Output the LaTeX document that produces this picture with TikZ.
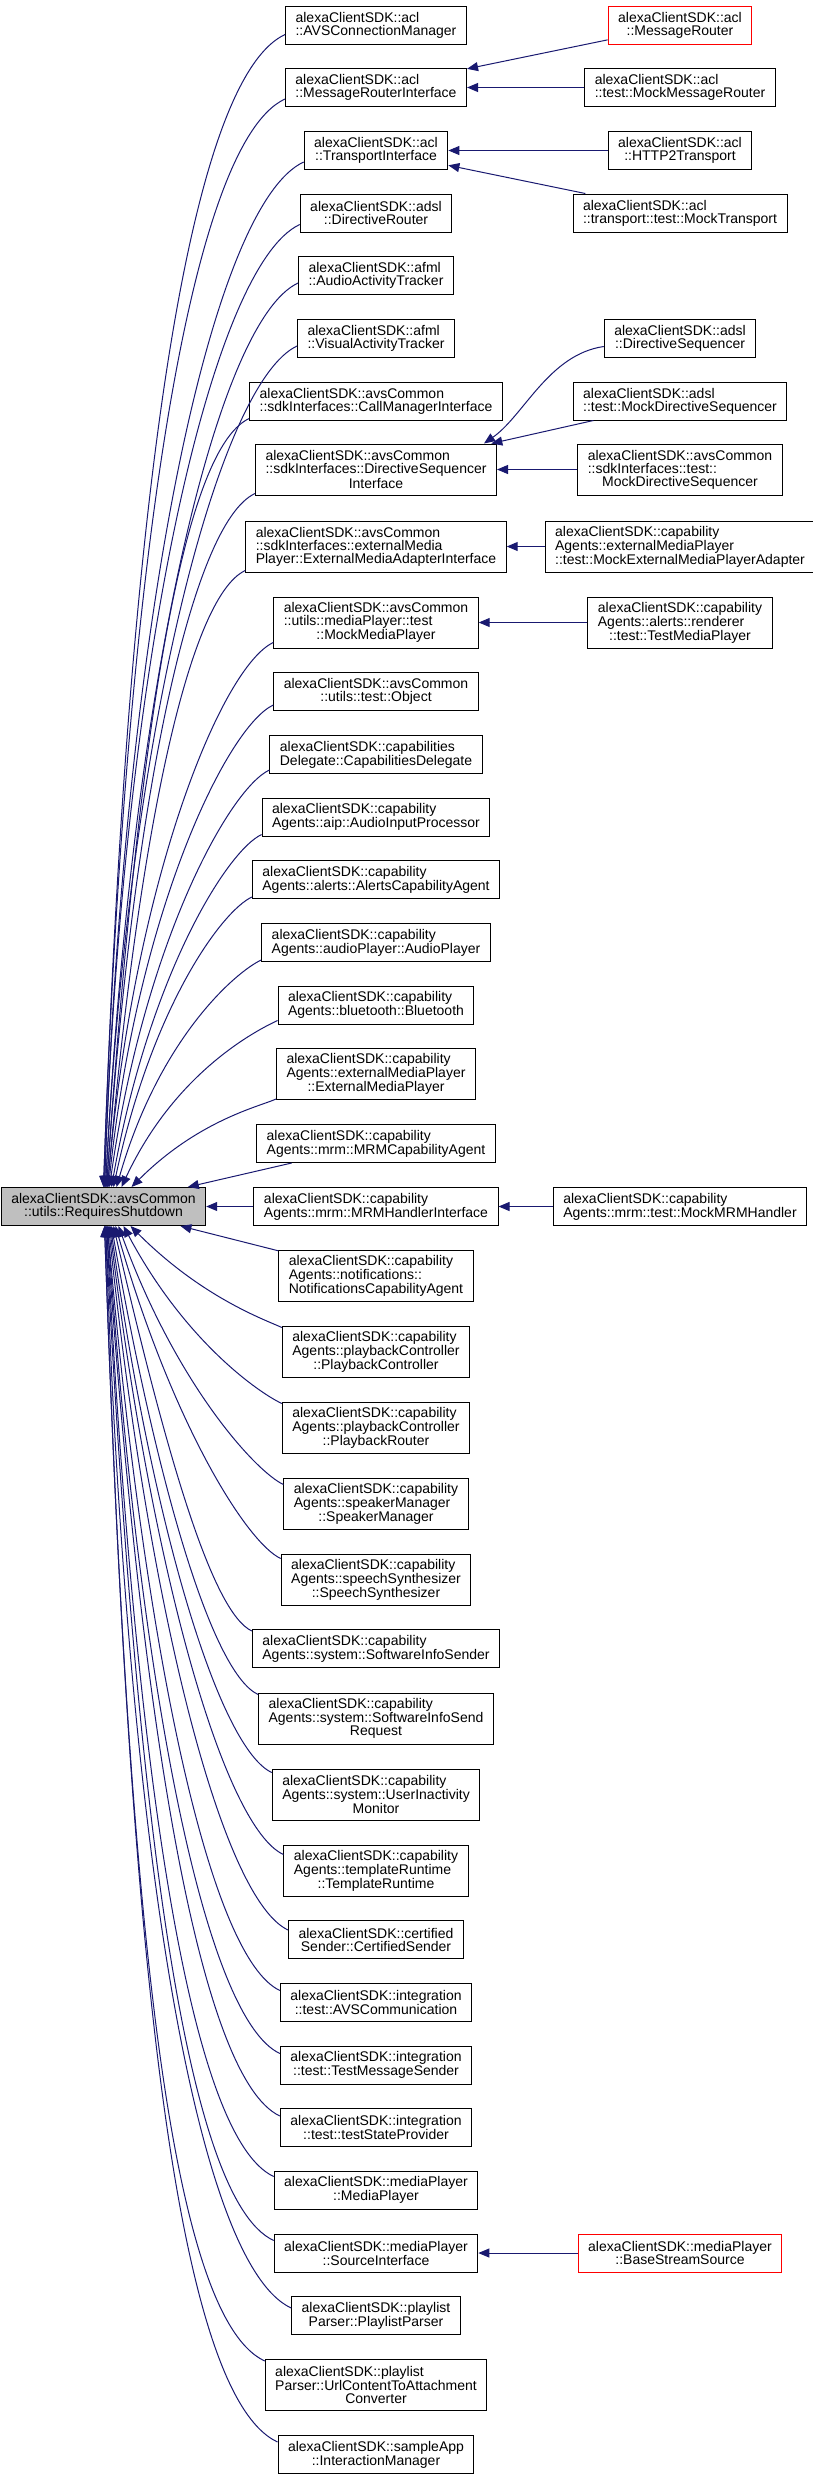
\documentclass[tikz,border=0pt]{standalone}
\usepackage{fontspec}
\setmainfont{Liberation Sans}
\usetikzlibrary{arrows.meta}
\definecolor{edgeblue}{HTML}{191970}
\definecolor{basegray}{HTML}{BFBFBF}
% last line of a label is centred, the others are flush left
\newcommand{\lastln}[1]{\hfill#1\hfill\mbox{}}

\begin{document}
\begin{tikzpicture}[x=1pt, y=-1pt,
    cls/.style={draw=black, rectangle, line width=1pt, fill=white, font=\fontsize{14}{13}\selectfont,
                align=left, inner xsep=10pt, inner ysep=0pt, minimum height=38pt},
    cls3/.style={cls, minimum height=51pt},
    trunc/.style={cls, draw=red},
    basecls/.style={cls, fill=basegray},
    inh/.style={draw=edgeblue, line width=1pt, -{Triangle[length=11pt, width=9pt]}}
]
\useasboundingbox (0,0) rectangle (813,2479);

% Base class
\node[basecls] (rs) at (103.5,1206.5) {alexaClientSDK::avsCommon\\\lastln{::utils::RequiresShutdown}};

% Derived classes
\node[cls] (avsconn) at (376,25) {alexaClientSDK::acl\\\lastln{::AVSConnectionManager}};
\node[cls] (msgrouterif) at (376,87.5) {alexaClientSDK::acl\\\lastln{::MessageRouterInterface}};
\node[cls] (transportif) at (376,150.5) {alexaClientSDK::acl\\\lastln{::TransportInterface}};
\node[cls] (dirrouter) at (376,213) {alexaClientSDK::adsl\\\lastln{::DirectiveRouter}};
\node[cls] (audioact) at (376,275.5) {alexaClientSDK::afml\\\lastln{::AudioActivityTracker}};
\node[cls] (visualact) at (376,338.5) {alexaClientSDK::afml\\\lastln{::VisualActivityTracker}};
\node[cls] (callmgr) at (376,401) {alexaClientSDK::avsCommon\\\lastln{::sdkInterfaces::CallManagerInterface}};
\node[cls3] (dirseqif) at (376,469.5) {alexaClientSDK::avsCommon\\::sdkInterfaces::DirectiveSequencer\\\lastln{Interface}};
\node[cls3] (extmediaif) at (376,546.5) {alexaClientSDK::avsCommon\\::sdkInterfaces::externalMedia\\\lastln{Player::ExternalMediaAdapterInterface}};
\node[cls3] (mockmp) at (376,622.5) {alexaClientSDK::avsCommon\\::utils::mediaPlayer::test\\\lastln{::MockMediaPlayer}};
\node[cls] (utilobj) at (376,691.5) {alexaClientSDK::avsCommon\\\lastln{::utils::test::Object}};
\node[cls] (capdelegate) at (376,754.5) {alexaClientSDK::capabilities\\\lastln{Delegate::CapabilitiesDelegate}};
\node[cls] (aip) at (376,817) {alexaClientSDK::capability\\\lastln{Agents::aip::AudioInputProcessor}};
\node[cls] (alerts) at (376,879.5) {alexaClientSDK::capability\\\lastln{Agents::alerts::AlertsCapabilityAgent}};
\node[cls] (audioplayer) at (376,942.5) {alexaClientSDK::capability\\\lastln{Agents::audioPlayer::AudioPlayer}};
\node[cls] (bluetooth) at (376,1005) {alexaClientSDK::capability\\\lastln{Agents::bluetooth::Bluetooth}};
\node[cls3] (extmp) at (376,1074) {alexaClientSDK::capability\\Agents::externalMediaPlayer\\\lastln{::ExternalMediaPlayer}};
\node[cls] (mrmca) at (376,1143.5) {alexaClientSDK::capability\\\lastln{Agents::mrm::MRMCapabilityAgent}};
\node[cls] (mrmhandlerif) at (376,1206.5) {alexaClientSDK::capability\\\lastln{Agents::mrm::MRMHandlerInterface}};
\node[cls3] (notif) at (376,1275.5) {alexaClientSDK::capability\\Agents::notifications::\\\lastln{NotificationsCapabilityAgent}};
\node[cls3] (pbcontroller) at (376,1351.5) {alexaClientSDK::capability\\Agents::playbackController\\\lastln{::PlaybackController}};
\node[cls3] (pbrouter) at (376,1427.5) {alexaClientSDK::capability\\Agents::playbackController\\\lastln{::PlaybackRouter}};
\node[cls3] (speakermgr) at (376,1503.5) {alexaClientSDK::capability\\Agents::speakerManager\\\lastln{::SpeakerManager}};
\node[cls3] (speechsynth) at (376,1579.5) {alexaClientSDK::capability\\Agents::speechSynthesizer\\\lastln{::SpeechSynthesizer}};
\node[cls] (swinfosender) at (376,1648.5) {alexaClientSDK::capability\\\lastln{Agents::system::SoftwareInfoSender}};
\node[cls3] (swinforeq) at (376,1718.5) {alexaClientSDK::capability\\Agents::system::SoftwareInfoSend\\\lastln{Request}};
\node[cls3] (userinact) at (376,1794.5) {alexaClientSDK::capability\\Agents::system::UserInactivity\\\lastln{Monitor}};
\node[cls3] (templrt) at (376,1870.5) {alexaClientSDK::capability\\Agents::templateRuntime\\\lastln{::TemplateRuntime}};
\node[cls] (certsender) at (376,1939.5) {alexaClientSDK::certified\\\lastln{Sender::CertifiedSender}};
\node[cls] (avscomm) at (376,2002) {alexaClientSDK::integration\\\lastln{::test::AVSCommunication}};
\node[cls] (testmsgsender) at (376,2065) {alexaClientSDK::integration\\\lastln{::test::TestMessageSender}};
\node[cls] (teststate) at (376,2127.5) {alexaClientSDK::integration\\\lastln{::test::testStateProvider}};
\node[cls] (mediaplayer) at (376,2190) {alexaClientSDK::mediaPlayer\\\lastln{::MediaPlayer}};
\node[cls] (sourceif) at (376,2253) {alexaClientSDK::mediaPlayer\\\lastln{::SourceInterface}};
\node[cls] (playlistparser) at (376,2315.5) {alexaClientSDK::playlist\\\lastln{Parser::PlaylistParser}};
\node[cls3] (urlconv) at (376,2385) {alexaClientSDK::playlist\\Parser::UrlContentToAttachment\\\lastln{Converter}};
\node[cls] (interactmgr) at (376,2454.5) {alexaClientSDK::sampleApp\\\lastln{::InteractionManager}};

% Second level
\node[trunc] (msgrouter) at (680,25) {alexaClientSDK::acl\\\lastln{::MessageRouter}};
\node[cls] (mockmsgrouter) at (680,87.5) {alexaClientSDK::acl\\\lastln{::test::MockMessageRouter}};
\node[cls] (http2) at (680,150.5) {alexaClientSDK::acl\\\lastln{::HTTP2Transport}};
\node[cls] (mocktransport) at (680,213) {alexaClientSDK::acl\\\lastln{::transport::test::MockTransport}};
\node[cls] (dirseq) at (680,338.5) {alexaClientSDK::adsl\\\lastln{::DirectiveSequencer}};
\node[cls] (mockdirseq) at (680,401) {alexaClientSDK::adsl\\\lastln{::test::MockDirectiveSequencer}};
\node[cls3] (mockdirseqif) at (680,469.5) {alexaClientSDK::avsCommon\\::sdkInterfaces::test::\\\lastln{MockDirectiveSequencer}};
\node[cls3] (mockextadapter) at (680,546.5) {alexaClientSDK::capability\\Agents::externalMediaPlayer\\\lastln{::test::MockExternalMediaPlayerAdapter}};
\node[cls3] (testmp) at (680,622.5) {alexaClientSDK::capability\\Agents::alerts::renderer\\\lastln{::test::TestMediaPlayer}};
\node[cls] (mockmrm) at (680,1206.5) {alexaClientSDK::capability\\\lastln{Agents::mrm::test::MockMRMHandler}};
\node[trunc] (basestream) at (680,2253) {alexaClientSDK::mediaPlayer\\\lastln{::BaseStreamSource}};

% Inheritance, upper half
\draw[inh] ([yshift=10pt]avsconn.south west) .. controls +(205:114pt) and +(88:639pt) .. (rs.north);
\draw[inh] ([yshift=8pt]msgrouterif.south west) .. controls +(205:108pt) and +(88:604pt) .. (rs.north);
\draw[inh] ([yshift=8pt]transportif.south west) .. controls +(205:102pt) and +(88:570pt) .. ([xshift=1pt]rs.north);
\draw[inh] ([yshift=8pt]dirrouter.south west) .. controls +(205:96pt) and +(88:536pt) .. ([xshift=1pt]rs.north);
\draw[inh] ([yshift=12pt]audioact.south west) .. controls +(205:90pt) and +(87:505pt) .. ([xshift=2pt]rs.north);
\draw[inh] ([yshift=12pt]visualact.south west) .. controls +(205:84pt) and +(87:471pt) .. ([xshift=2pt]rs.north);
\draw[inh] ([yshift=2pt]callmgr.south west) .. controls +(205:77pt) and +(86:432pt) .. ([xshift=3pt]rs.north);
\draw[inh] ([yshift=2pt]dirseqif.south west) .. controls +(205:70pt) and +(86:392pt) .. ([xshift=3pt]rs.north);
\draw[inh] ([yshift=2pt]extmediaif.south west) .. controls +(205:63pt) and +(85:351pt) .. ([xshift=4pt]rs.north);
\draw[inh] ([yshift=6pt]mockmp.south west) .. controls +(205:56pt) and +(85:313pt) .. ([xshift=4pt]rs.north);
\draw[inh] ([yshift=6pt]utilobj.south west) .. controls +(205:50pt) and +(84:281pt) .. ([xshift=5pt]rs.north);
\draw[inh] ([yshift=4pt]capdelegate.south west) .. controls +(205:44pt) and +(82:247pt) .. ([xshift=6pt]rs.north);
\draw[inh] ([yshift=2pt]aip.south west) .. controls +(205:38pt) and +(80:215pt) .. ([xshift=8pt]rs.north);
\draw[inh] ([yshift=2pt]alerts.south west) .. controls +(205:33pt) and +(78:185pt) .. ([xshift=10pt]rs.north);
\draw[inh] ([yshift=2pt]audioplayer.south west) .. controls +(205:28pt) and +(74:155pt) .. ([xshift=13pt]rs.north);
\draw[inh] ([yshift=4pt]bluetooth.south west) .. controls +(205:23pt) and +(65:127pt) .. ([xshift=18pt]rs.north);
\draw[inh] ([yshift=1pt]extmp.south west) .. controls +(205:17pt) and +(45:95pt) .. ([xshift=28pt]rs.north);
\draw[inh] (mrmca) -- (rs);
\draw[inh] (mrmhandlerif) -- (rs);

% Inheritance, lower half
\draw[inh] (notif) -- (rs);
\draw[inh] ([yshift=-2pt]pbcontroller.north west) .. controls +(155:18pt) and +(-45:102pt) .. ([xshift=27pt]rs.south);
\draw[inh] ([yshift=-2pt]pbrouter.north west) .. controls +(155:24pt) and +(-62:132pt) .. ([xshift=20pt]rs.south);
\draw[inh] ([yshift=-7pt]speakermgr.north west) .. controls +(155:30pt) and +(-70:170pt) .. ([xshift=15pt]rs.south);
\draw[inh] ([yshift=-5pt]speechsynth.north west) .. controls +(155:37pt) and +(-74:207pt) .. ([xshift=12pt]rs.south);
\draw[inh] ([yshift=-2pt]swinfosender.north west) .. controls +(155:43pt) and +(-77:242pt) .. ([xshift=10pt]rs.south);
\draw[inh] ([yshift=-2pt]swinforeq.north west) .. controls +(155:49pt) and +(-80:275pt) .. ([xshift=8pt]rs.south);
\draw[inh] ([yshift=-4pt]userinact.north west) .. controls +(155:56pt) and +(-82:316pt) .. ([xshift=7pt]rs.south);
\draw[inh] ([yshift=-10pt]templrt.north west) .. controls +(155:64pt) and +(-83:359pt) .. ([xshift=6pt]rs.south);
\draw[inh] ([yshift=-10pt]certsender.north west) .. controls +(155:71pt) and +(-84:400pt) .. ([xshift=5pt]rs.south);
\draw[inh] ([yshift=-8pt]avscomm.north west) .. controls +(155:77pt) and +(-85:432pt) .. ([xshift=4pt]rs.south);
\draw[inh] ([yshift=-8pt]testmsgsender.north west) .. controls +(155:83pt) and +(-86:466pt) .. ([xshift=4pt]rs.south);
\draw[inh] ([yshift=-8pt]teststate.north west) .. controls +(155:89pt) and +(-86:500pt) .. ([xshift=3pt]rs.south);
\draw[inh] ([yshift=-6pt]mediaplayer.north west) .. controls +(155:95pt) and +(-87:533pt) .. ([xshift=3pt]rs.south);
\draw[inh] ([yshift=-7pt]sourceif.north west) .. controls +(155:101pt) and +(-87:567pt) .. ([xshift=2pt]rs.south);
\draw[inh] ([yshift=-12pt]playlistparser.north west) .. controls +(155:108pt) and +(-88:604pt) .. ([xshift=2pt]rs.south);
\draw[inh] ([yshift=-2pt]urlconv.north west) .. controls +(155:113pt) and +(-88:631pt) .. ([xshift=1pt]rs.south);
\draw[inh] ([yshift=-7pt]interactmgr.north west) .. controls +(155:120pt) and +(-88:675pt) .. ([xshift=1pt]rs.south);

% Second level inheritance
\draw[inh] (msgrouter) -- (msgrouterif);
\draw[inh] (mockmsgrouter) -- (msgrouterif);
\draw[inh] (http2) -- (transportif);
\draw[inh] (mocktransport) -- (transportif);
\draw[inh] ([yshift=-8pt]dirseq.west) .. controls +(-55,8) and +(40,-28) .. ([xshift=-13pt]dirseqif.north east);
\draw[inh] (mockdirseq) -- (dirseqif);
\draw[inh] (mockdirseqif) -- (dirseqif);
\draw[inh] (mockextadapter) -- (extmediaif);
\draw[inh] (testmp) -- (mockmp);
\draw[inh] (mockmrm) -- (mrmhandlerif);
\draw[inh] (basestream) -- (sourceif);
\end{tikzpicture}
\end{document}
